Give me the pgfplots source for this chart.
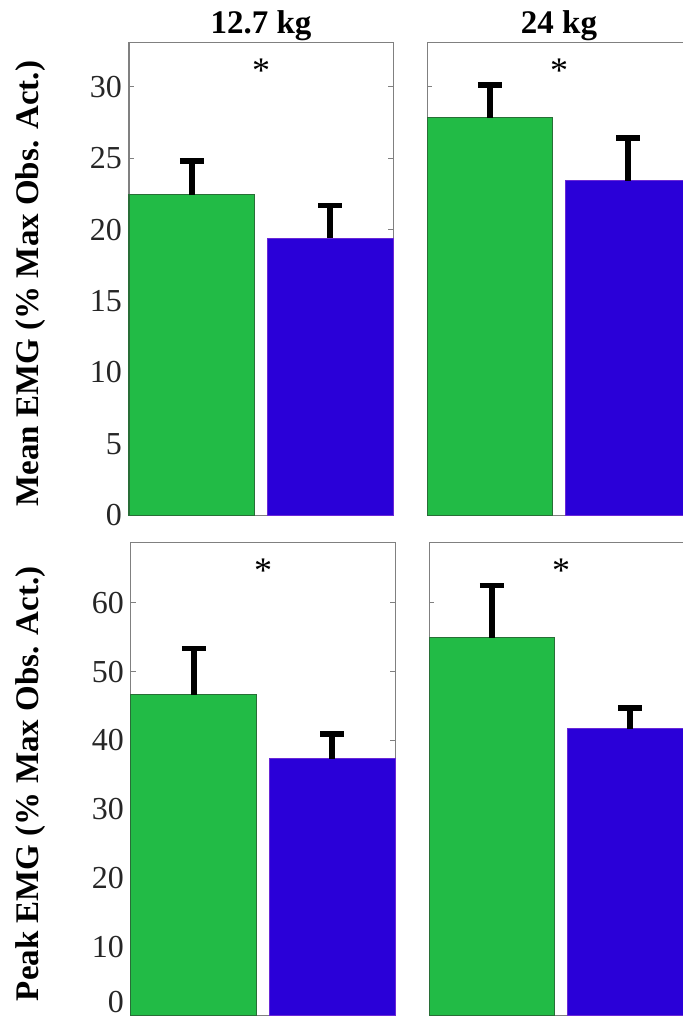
\documentclass[border=0pt]{standalone}
\usepackage{pgfplots}
\pgfplotsset{compat=1.18}
\usepackage{fontspec}
\setmainfont{Liberation Serif}

\definecolor{barGreen}{RGB}{34,187,70}
\definecolor{barGreenEdge}{RGB}{40,110,55}
\definecolor{barBlue}{RGB}{42,0,216}
\definecolor{barBlueEdge}{RGB}{105,40,215}
\definecolor{axGray}{RGB}{128,128,128}
\definecolor{tickText}{RGB}{38,38,38}

\tikzset{sigstar/.style={font=\fontsize{18}{20}\selectfont}}

\pgfplotsset{
  emgpanel/.style={
    scale only axis,
    anchor=south west,
    width=132pt,
    height=236.3pt,
    xmin=0.545, xmax=2.455,
    ymin=0,
    xtick=\empty,
    tick align=inside,
    major tick length=2.5pt,
    axis line style={draw=axGray, line width=0.5pt},
    every tick/.style={draw=axGray, line width=0.5pt},
    ytick pos=both,
    yticklabel pos=left,
    tick label style={font=\fontsize{16}{19}\selectfont, text=tickText},
    /pgf/number format/assume math mode=true,
    clip=false,
    title style={at={(0.5,1)}, anchor=base, yshift=-1.5pt,
      font=\fontsize{16.5}{20}\selectfont\bfseries},
    ylabel style={at={(axis description cs:-0.314,0.49)}, anchor=south,
      inner sep=0pt, font=\fontsize{16.5}{20}\selectfont\bfseries},
  },
  emgbar/.style={
    ybar, bar width=0.91, bar shift=0pt, line width=0.5pt,
    error bars/y dir=plus,
    error bars/y explicit,
    error bars/error mark=|,
    error bars/error bar style={line width=3.2pt, black},
    error bars/error mark options={line width=2.8pt, mark size=6pt, black},
  },
}

\begin{document}
\begin{tikzpicture}

% Mean EMG, 12.7 kg
\begin{axis}[emgpanel, at={(64.5pt,250.9pt)}, ymax=33.1,
  ytick={0,5,...,30}, title={12.7 kg},
  ylabel={Mean EMG (\% Max Obs. Act.)}]
  \addplot[emgbar, fill=barGreen, draw=barGreenEdge] coordinates {(1,22.44) +- (0,2.38)};
  \addplot[emgbar, fill=barBlue, draw=barBlueEdge] coordinates {(2,19.40) +- (0,2.30)};
  \node[sigstar] at (axis cs:1.5,31.1) {*};
\end{axis}

% Mean EMG, 24 kg
\begin{axis}[emgpanel, at={(213.5pt,250.9pt)}, ymax=33.1,
  ytick={0,5,...,30}, yticklabels={}, title={24 kg}]
  \addplot[emgbar, fill=barGreen, draw=barGreenEdge] coordinates {(1,27.83) +- (0,2.28)};
  \addplot[emgbar, fill=barBlue, draw=barBlueEdge] coordinates {(2,23.44) +- (0,2.96)};
  \node[sigstar] at (axis cs:1.5,31.1) {*};
\end{axis}

% Peak EMG, 12.7 kg (the zero label is lifted to stay on the page)
\begin{axis}[emgpanel, at={(65.5pt,0.75pt)}, ymax=68.7,
  ytick={10,20,...,60},
  extra y ticks={0},
  extra y tick style={yticklabel style={yshift=6.5pt}},
  ylabel={Peak EMG (\% Max Obs. Act.)},
  ylabel style={at={(axis description cs:-0.323,0.49)}}]
  \addplot[emgbar, fill=barGreen, draw=barGreenEdge] coordinates {(1,46.65) +- (0,6.70)};
  \addplot[emgbar, fill=barBlue, draw=barBlueEdge] coordinates {(2,37.29) +- (0,3.61)};
  \node[sigstar] at (axis cs:1.5,64.6) {*};
\end{axis}

% Peak EMG, 24 kg
\begin{axis}[emgpanel, at={(214.5pt,0.75pt)}, ymax=68.7,
  ytick={0,10,...,60}, yticklabels={}]
  \addplot[emgbar, fill=barGreen, draw=barGreenEdge] coordinates {(1,54.90) +- (0,7.62)};
  \addplot[emgbar, fill=barBlue, draw=barBlueEdge] coordinates {(2,41.70) +- (0,2.99)};
  \node[sigstar] at (axis cs:1.5,64.6) {*};
\end{axis}

% the page ends at the right edge of the second column
\pgfresetboundingbox
\useasboundingbox (0,0) rectangle (341.5pt,508.5pt);
\end{tikzpicture}
\end{document}
